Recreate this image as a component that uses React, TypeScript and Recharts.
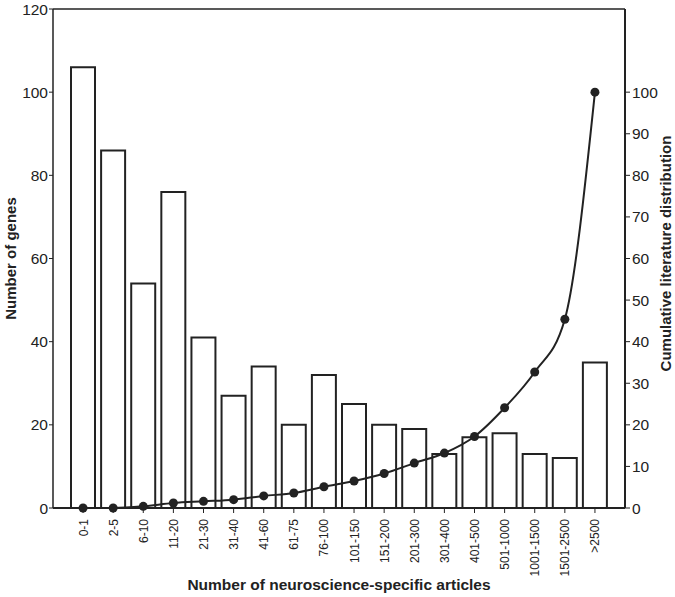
import React from 'react'
import { ComposedChart, Bar, Line, XAxis, YAxis, ReferenceLine } from 'recharts'

const categories = [
    '0-1', '2-5', '6-10', '11-20', '21-30', '31-40', '41-60', '61-75', '76-100',
    '101-150', '151-200', '201-300', '301-400', '401-500', '501-1000', '1001-1500', '1501-2500', '>2500',
]
const geneCounts = [106, 86, 54, 76, 41, 27, 34, 20, 32, 25, 20, 19, 13, 17, 18, 13, 12, 35]
const cumulative = [0, 0, 0.4, 1.2, 1.6, 2, 2.9, 3.6, 5.1, 6.5, 8.3, 10.8, 13.2, 17.2, 24.1, 32.7, 45.4, 100]
const leftTicks = [0, 20, 40, 60, 80, 100, 120]
const rightTicks = [0, 10, 20, 30, 40, 50, 60, 70, 80, 90, 100]

const FONT = '"Liberation Sans", Arial, Helvetica, sans-serif'
const INK = '#222'

const data = categories.map((name, i) => ({
    name,
    genes: geneCounts[i],
    cumulative: cumulative[i],
}))

const RotatedTick = (props: any) => {
    const { x, y, payload } = props
    return (
        <text
            x={0}
            y={0}
            transform={`translate(${x + 4.5},${y + 4}) rotate(-90)`}
            textAnchor="end"
            fontSize={12}
            fontFamily={FONT}
            fill={INK}
        >
            {payload.value}
        </text>
    )
}

const xTitle = (props: any) => {
    const { viewBox } = props
    return (
        <text
            x={viewBox.x + viewBox.width / 2}
            y={590}
            textAnchor="middle"
            fontSize={15.5}
            fontWeight="bold"
            fontFamily={FONT}
            fill={INK}
        >
            Number of neuroscience-specific articles
        </text>
    )
}

const leftTitle = (props: any) => {
    const { viewBox } = props
    const cy = viewBox.y + viewBox.height / 2
    return (
        <text
            transform={`translate(16,${cy}) rotate(-90)`}
            textAnchor="middle"
            fontSize={15}
            fontWeight="bold"
            fontFamily={FONT}
            fill={INK}
        >
            Number of genes
        </text>
    )
}

const rightTitle = (props: any) => {
    const { viewBox } = props
    const cy = viewBox.y + viewBox.height / 2
    return (
        <text
            transform={`translate(671,${cy - 5}) rotate(-90)`}
            textAnchor="middle"
            fontSize={15}
            fontWeight="bold"
            fontFamily={FONT}
            fill={INK}
        >
            Cumulative literature distribution
        </text>
    )
}

export default function App() {
    return (
        <div style={{ width: 675, height: 597, background: '#fff' }}>
            <style>{`body { margin: 0; }`}</style>
            <ComposedChart
                width={675}
                height={597}
                data={data}
                margin={{ top: 9, right: 0, left: 0, bottom: 0 }}
            >
                <XAxis
                    dataKey="name"
                    height={89}
                    interval={0}
                    padding={{ left: 15, right: 15 }}
                    tick={<RotatedTick />}
                    tickSize={5}
                    axisLine={{ stroke: INK, strokeWidth: 2 }}
                    tickLine={{ stroke: INK, strokeWidth: 1 }}
                    label={{ content: xTitle }}
                />
                <YAxis
                    yAxisId="left"
                    orientation="left"
                    width={53}
                    domain={[0, 120]}
                    ticks={leftTicks}
                    interval={0}
                    tickSize={4}
                    tickMargin={1}
                    tick={{ fontSize: 15.5, fontFamily: FONT, fill: INK }}
                    axisLine={{ stroke: INK, strokeWidth: 1.5 }}
                    tickLine={{ stroke: INK, strokeWidth: 1 }}
                    label={{ content: leftTitle }}
                />
                <YAxis
                    yAxisId="right"
                    orientation="right"
                    width={50}
                    domain={[0, 120]}
                    ticks={rightTicks}
                    interval={0}
                    tickSize={5}
                    tickMargin={2}
                    tick={{ fontSize: 15.5, fontFamily: FONT, fill: INK }}
                    axisLine={{ stroke: INK, strokeWidth: 2 }}
                    tickLine={{ stroke: INK, strokeWidth: 1 }}
                    label={{ content: rightTitle }}
                />
                <ReferenceLine yAxisId="left" y={120} stroke={INK} strokeWidth={1.5} />
                <Bar
                    yAxisId="left"
                    dataKey="genes"
                    barSize={24}
                    fill="#fff"
                    stroke={INK}
                    strokeWidth={2}
                    isAnimationActive={false}
                />
                <Line
                    yAxisId="right"
                    dataKey="cumulative"
                    type="monotone"
                    stroke={INK}
                    strokeWidth={2}
                    dot={{ r: 4.5, fill: INK, stroke: INK, strokeWidth: 0 }}
                    activeDot={false}
                    isAnimationActive={false}
                />
            </ComposedChart>
        </div>
    )
}
